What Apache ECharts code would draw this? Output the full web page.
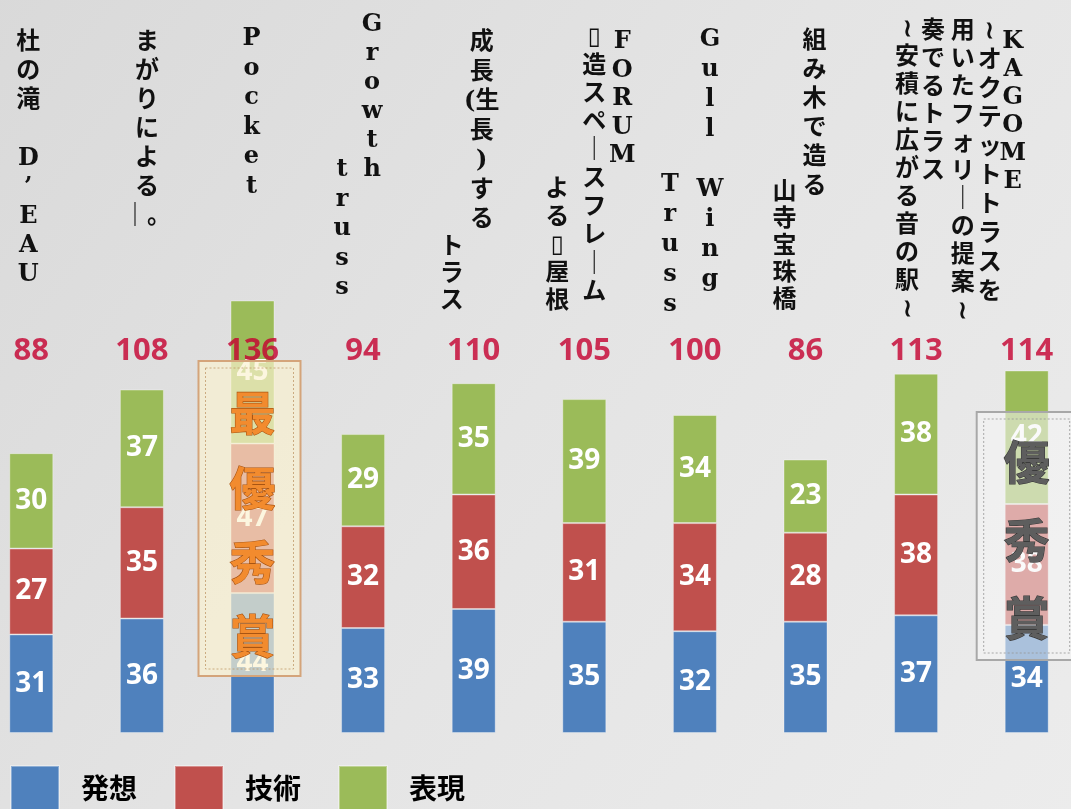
<!DOCTYPE html>
<html><head><meta charset="utf-8">
<script src="https://cdn.jsdelivr.net/npm/echarts@6/dist/echarts.min.js"></script>
<style>
html,body{margin:0;padding:0;width:1071px;height:809px;overflow:hidden;background:#e0e0e0;}
#c{position:absolute;left:-24px;top:0;width:1106px;height:809px;}
</style>
</head><body><div id="c"></div>
<script>
// ---------- data ----------
const categories = ['杜の滝 D’EAU', 'まがりによる―。', 'Pocket', 'Growth truss', '成長(生長)するトラス',
  'FORUM ▯造スペースフレームよる▯屋根', 'Gull Wing Truss', '組み木で造る 山寺宝珠橋',
  '奏でるトラス ~安積に広がる音の駅~', 'KAGOME ~オクテットトラスを用いたフォリーの提案~'];
const seriesNames = ['発想', '技術', '表現'];
const hassou  = [31, 36, 44, 33, 39, 35, 32, 35, 37, 34];
const gijutsu = [27, 35, 47, 32, 36, 31, 34, 28, 38, 38];
const hyougen = [30, 37, 45, 29, 35, 39, 34, 23, 38, 42];
const totals = categories.map((_, i) => hassou[i] + gijutsu[i] + hyougen[i]);

// vertical title text: columns (right to left), each a list of rows
const labelColumns = [
  [['杜','の','滝',' ','D','’','E','A','U']],
  [['ま','が','り','に','よ','る','｜。']],
  [['P','o','c','k','e','t']],
  [['G','r','o','w','t','h'], ['t','r','u','s','s']],
  [['成','長','(生','長',')','す','る'], ['ト','ラ','ス']],
  [['F','O','R','U','M'], ['▯','造','ス','ペ','｜','ス','フ','レ','｜','ム'], ['よ','る','▯','屋','根']],
  [['G','u','l','l',' ','W','i','n','g'], ['T','r','u','s','s']],
  [['組','み','木','で','造','る'], ['山','寺','宝','珠','橋']],
  [['奏','で','る','ト','ラ','ス'], ['≀','安','積','に','広','が','る','音','の','駅','≀']],
  [['K','A','G','O','M','E'], ['≀','オ','ク','テ','ッ','ト','ト','ラ','ス','を'], ['用','い','た','フ','ォ','リ','｜','の','提','案','≀']]
];
const awards = [{ index: 2, text: '最優秀賞' }, { index: 9, text: '優秀賞' }];

// ---------- layout (positions only) ----------
const SHIFT = 24; // canvas is offset 24px left of the page
// [dx from bar centre, y of first row centre, row pitch]
const columnLayout = [
  [[-3, 43, 29]],
  [[5, 43, 29]],
  [[-1, 39, 29.5]],
  [[9, 25, 29], [-21, 170, 29.5]],
  [[8, 43, 29.5], [-22, 248, 27]],
  [[38, 42, 28.5], [10, 38, 28.3], [-27, 190, 28]],
  [[15, 40, 30], [-25, 185, 30]],
  [[9, 42, 29], [-21, 193, 27]],
  [[17, 32, 28], [-9, 30, 28]],
  [[-14, 42, 28], [-37, 32, 29], [-64, 32, 28]]
];
const TOTAL_LABEL_LEVEL = 120;

const colors = ['#4F81BD', '#C0504D', '#9BBB59'];
const chart = echarts.init(document.getElementById('c'), null, { renderer: 'canvas' });

const segLabel = {
  show: true, position: 'inside', color: '#ffffff', fontSize: 28, fontWeight: 'bold',
  fontFamily: '"Open Sans", "Noto Sans", sans-serif'
};
const valueSets = [hassou, gijutsu, hyougen];

const option = {
  backgroundColor: {
    type: 'linear', x: 0, y: 0, x2: 1, y2: 1,
    colorStops: [{ offset: 0, color: '#d9d9d9' }, { offset: 0.5, color: '#e4e4e4' }, { offset: 1, color: '#ececec' }]
  },
  animation: false,
  grid: { left: 0, right: 0, top: 97, bottom: 76 },
  xAxis: { type: 'category', data: categories, show: false },
  yAxis: { type: 'value', min: 0, max: 200, show: false },
  legend: {
    left: 10 + SHIFT, top: 765, padding: 0, itemWidth: 48, itemHeight: 44, itemGap: 37,
    icon: 'rect', data: seriesNames,
    textStyle: { fontSize: 28, fontWeight: 'bold', color: '#000', padding: [0, 0, 0, 17],
      fontFamily: '"Noto Sans CJK JP", sans-serif' }
  },
  series: valueSets.map((vals, k) => ({
    name: seriesNames[k], type: 'bar', stack: 'total', barWidth: 44,
    itemStyle: { color: colors[k], borderColor: 'rgba(255,255,255,0.35)', borderWidth: 1 },
    label: segLabel, data: vals
  })).concat([{
    type: 'scatter', symbolSize: 0, silent: true, z: 5,
    data: totals.map((t, i) => ({ value: [i, TOTAL_LABEL_LEVEL], total: t })),
    label: {
      show: true, position: 'inside', formatter: p => String(p.data.total),
      color: '#C4002F', fontSize: 31, fontWeight: 'bold', fontFamily: '"Open Sans", "Noto Sans", sans-serif'
    }
  }])
};
chart.setOption(option);

// ---------- graphic overlays (titles + award plates) ----------
const graphics = [];
const cx = i => chart.convertToPixel({ xAxisIndex: 0 }, i);
labelColumns.forEach((cols, i) => {
  const c = cx(i);
  cols.forEach((rows, j) => {
    const [dx, y0, pitch] = columnLayout[i][j];
    graphics.push({
      type: 'text', x: c + dx, y: y0 - pitch / 2, z: 20,
      style: {
        text: rows.join('\n'), fill: '#111', align: 'center', verticalAlign: 'top',
        lineHeight: pitch, font: 'bold 24px "DejaVu Serif", "Noto Sans CJK JP", serif'
      }
    });
  });
});

// award plates
const plateLayout = [
  { dx: -3, top: 361, bottom: 676, width: 102, first: 413, pitch: 74.3,
    fill: 'rgba(250,242,208,0.68)', stroke: '#d4a47a', inner: 'rgba(190,150,100,0.75)',
    textFill: '#F28B2E', textStroke: '#a85412', size: 46 },
  { dx: 0, top: 412, bottom: 660, width: 100, first: 462, pitch: 78,
    fill: 'rgba(245,245,245,0.55)', stroke: '#a8a8a8', inner: 'rgba(150,150,150,0.8)',
    textFill: '#5e5e5e', textStroke: '#3a3a3a', size: 46 }
];
awards.forEach((a, k) => {
  const L = plateLayout[k];
  const c = cx(a.index) + L.dx;
  const left = c - L.width / 2;
  graphics.push({
    type: 'rect', z: 30, shape: { x: left, y: L.top, width: L.width, height: L.bottom - L.top },
    style: { fill: L.fill, stroke: L.stroke, lineWidth: 2 }
  });
  graphics.push({
    type: 'rect', z: 31, shape: { x: left + 7, y: L.top + 7, width: L.width - 14, height: L.bottom - L.top - 14 },
    style: { fill: 'none', stroke: L.inner, lineWidth: 1, lineDash: [2, 2] }
  });
  a.text.split('').forEach((ch, m) => {
    graphics.push({
      type: 'text', z: 32, x: cx(a.index), y: L.first + m * L.pitch,
      style: {
        text: ch, fill: L.textFill, stroke: L.textStroke, lineWidth: 1.2,
        align: 'center', verticalAlign: 'middle',
        font: 'bold ' + L.size + 'px "Noto Sans CJK JP", sans-serif'
      }
    });
  });
});
chart.setOption({ graphic: graphics });
</script>
</body></html>
